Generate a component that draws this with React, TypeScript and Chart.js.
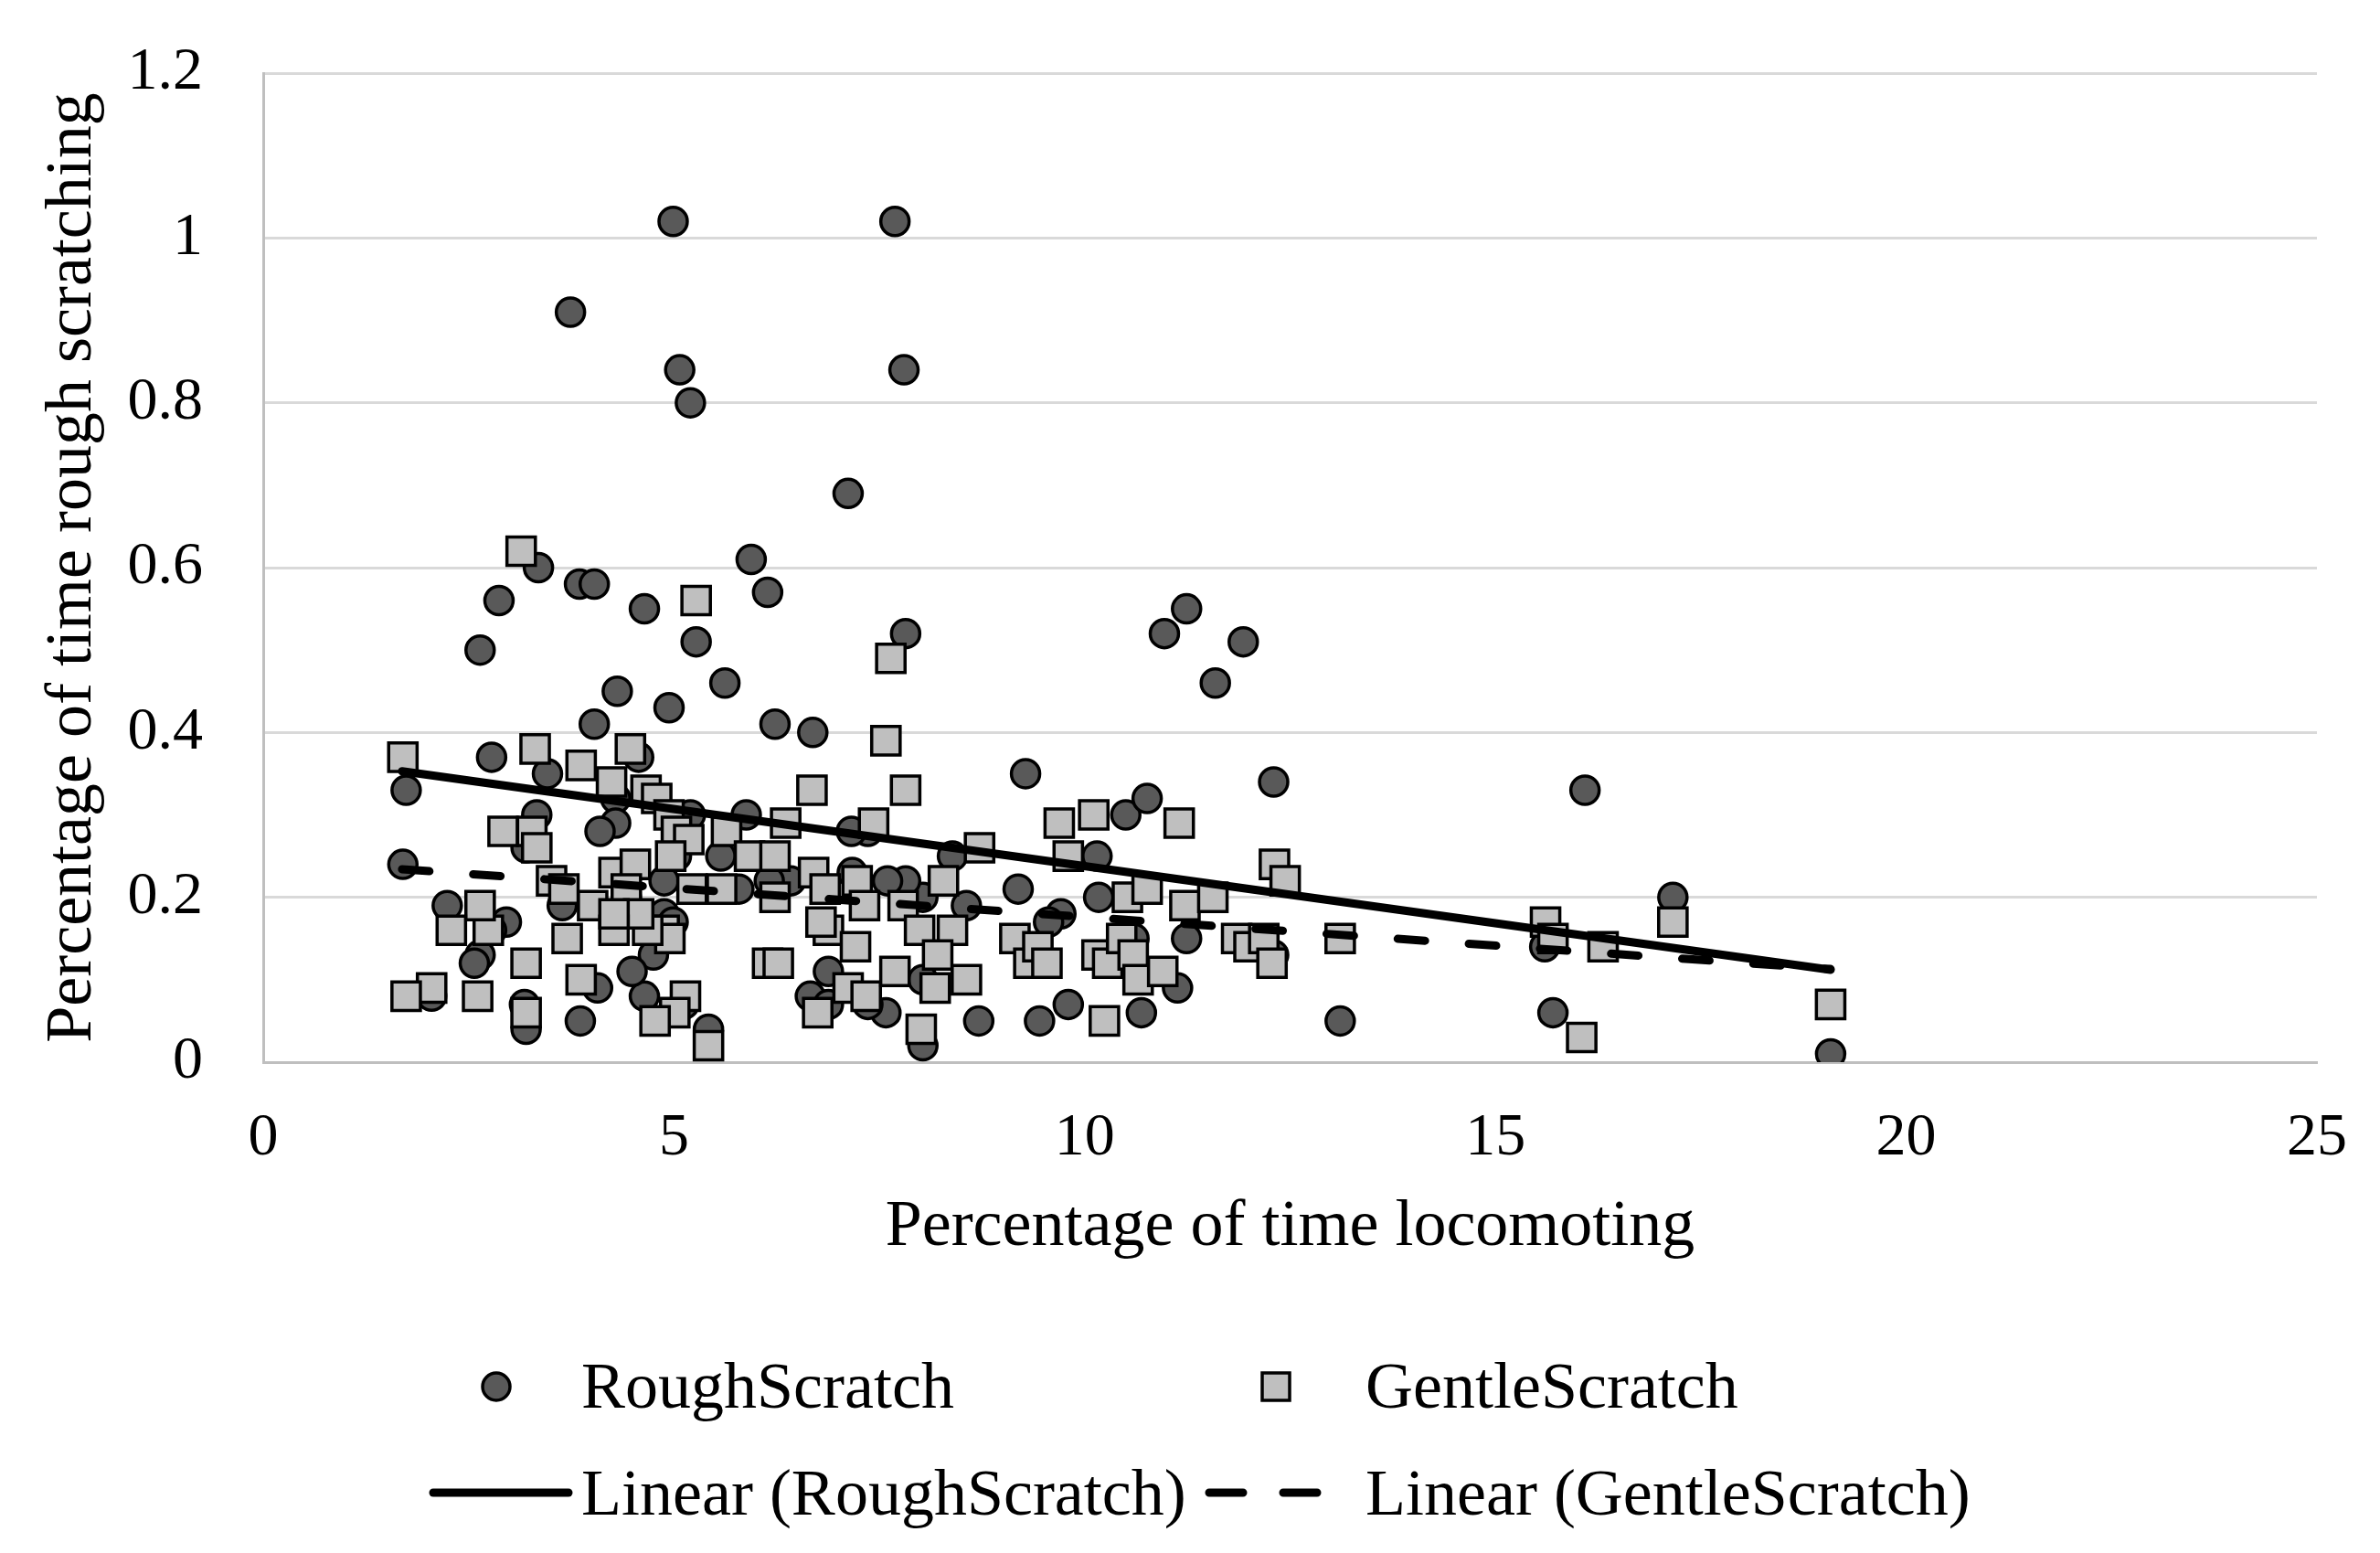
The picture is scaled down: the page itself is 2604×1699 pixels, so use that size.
import React, { useEffect, useRef } from "react";
import { Chart, registerables } from "chart.js";

Chart.register(...registerables);

// ---- Data ----
const roughX = [
  4.99, 7.69, 3.74, 5.07, 7.80, 5.20, 7.12, 3.35, 2.87, 3.85, 4.03, 4.64, 5.94, 6.14, 7.82, 5.27,
  2.64, 4.31, 5.62, 4.94, 10.97, 11.24, 11.59, 11.93, 6.23, 6.69, 4.03, 2.78, 1.74, 1.70, 9.28, 12.30,
  16.09, 17.16, 19.08, 13.11, 15.70, 15.60, 10.50, 10.76, 11.24, 11.13, 10.69, 9.80, 9.45, 8.71, 9.19, 9.71,
  9.56, 10.15, 10.17, 8.56, 8.39, 8.03, 8.03, 8.03, 7.82, 7.60, 7.58, 7.36, 7.16, 7.17, 6.88, 6.66,
  6.88, 7.36, 6.42, 6.16, 5.88, 5.79, 5.57, 5.20, 5.42, 5.12, 5.03, 4.88, 4.88, 4.99, 4.79, 4.75,
  4.64, 4.49, 4.29, 4.29, 4.10, 4.57, 4.07, 3.86, 3.64, 3.46, 3.33, 3.20, 3.18, 3.20, 2.96, 2.78,
  2.64, 2.57, 2.24, 2.05, 4.42, 12.30, 10.60,
];
const roughY = [
  1.02, 1.02, 0.91, 0.84, 0.84, 0.80, 0.69, 0.60, 0.56, 0.58, 0.58, 0.55, 0.61, 0.57, 0.52, 0.51,
  0.50, 0.45, 0.46, 0.43, 0.52, 0.55, 0.46, 0.51, 0.41, 0.40, 0.41, 0.37, 0.33, 0.24, 0.35, 0.34,
  0.33, 0.20, 0.01, 0.05, 0.06, 0.14, 0.30, 0.32, 0.15, 0.09, 0.06, 0.07, 0.05, 0.05, 0.21, 0.18,
  0.17, 0.25, 0.20, 0.19, 0.25, 0.20, 0.10, 0.02, 0.22, 0.22, 0.06, 0.28, 0.28, 0.23, 0.11, 0.08,
  0.07, 0.07, 0.22, 0.22, 0.30, 0.21, 0.25, 0.30, 0.04, 0.07, 0.25, 0.22, 0.18, 0.17, 0.15, 0.13,
  0.08, 0.11, 0.32, 0.29, 0.28, 0.37, 0.09, 0.05, 0.19, 0.35, 0.30, 0.26, 0.07, 0.04, 0.17, 0.16,
  0.13, 0.12, 0.19, 0.08, 0.20, 0.13, 0.15,
];

const gentleX = [
  3.14, 5.27, 7.64, 1.70, 3.31, 3.87, 4.47, 4.24, 4.66, 4.79, 4.94, 7.58, 7.82, 6.68, 2.92, 3.27,
  3.33, 3.51, 3.66, 4.01, 4.27, 4.53, 4.42, 5.03, 5.18, 5.22, 5.58, 5.64, 5.92, 6.23, 6.36, 6.23,
  6.70, 6.84, 7.23, 7.32, 6.88, 7.21, 6.79, 7.43, 7.79, 7.99, 8.28, 8.39, 8.72, 8.21, 8.18, 8.56,
  8.01, 7.12, 7.34, 7.69, 6.75, 6.14, 6.27, 5.42, 5.14, 5.01, 4.77, 4.88, 4.95, 4.96, 4.68, 4.57,
  4.27, 4.27, 3.87, 3.70, 3.20, 3.20, 2.74, 2.64, 2.61, 2.29, 2.05, 1.74, 9.15, 9.32, 9.43, 9.54,
  9.69, 9.80, 10.11, 10.15, 10.28, 10.24, 10.45, 10.52, 10.59, 10.65, 10.76, 10.95, 11.15, 11.22, 11.56, 11.85,
  12.00, 12.18, 12.31, 12.44, 12.28, 13.11, 15.61, 15.70, 16.05, 16.31, 17.16, 19.08,
];
const gentleY = [
  0.62, 0.56, 0.49, 0.37, 0.38, 0.36, 0.38, 0.34, 0.33, 0.32, 0.30, 0.39, 0.33, 0.33, 0.28, 0.28,
  0.26, 0.22, 0.21, 0.19, 0.23, 0.24, 0.21, 0.28, 0.27, 0.21, 0.21, 0.28, 0.25, 0.25, 0.29, 0.20,
  0.23, 0.21, 0.22, 0.19, 0.16, 0.14, 0.17, 0.29, 0.19, 0.16, 0.22, 0.16, 0.26, 0.13, 0.09, 0.10,
  0.04, 0.09, 0.08, 0.11, 0.06, 0.12, 0.12, 0.02, 0.08, 0.06, 0.05, 0.16, 0.15, 0.25, 0.16, 0.18,
  0.16, 0.18, 0.10, 0.15, 0.12, 0.06, 0.16, 0.19, 0.08, 0.16, 0.09, 0.08, 0.15, 0.12, 0.14, 0.12,
  0.29, 0.25, 0.30, 0.13, 0.12, 0.05, 0.15, 0.20, 0.13, 0.10, 0.21, 0.11, 0.29, 0.19, 0.20, 0.15,
  0.14, 0.15, 0.24, 0.22, 0.12, 0.15, 0.17, 0.15, 0.03, 0.14, 0.17, 0.07,
];

// Linear trend lines (end points)
const trendX = [1.69, 19.08];
const roughTrendY = [0.353, 0.112];
const gentleTrendY = [0.234, 0.113];

const xTickValues = [0, 5, 10, 15, 20, 25];
const yTickValues = [0, 0.2, 0.4, 0.6, 0.8, 1, 1.2];
const yTickLabels = ["0", "0.2", "0.4", "0.6", "0.8", "1", "1.2"];

const seriesNames = ["RoughScratch", "GentleScratch", "Linear (RoughScratch)", "Linear (GentleScratch)"];

const FONT = '"Liberation Serif", "Times New Roman", serif';
const ROUGH_FILL = "#595959";
const GENTLE_FILL = "#bfbfbf";

export default function App() {
  const ref = useRef<HTMLCanvasElement | null>(null);

  useEffect(() => {
    if (!ref.current) return;
    const pts = (xs: number[], ys: number[]) => xs.map((x, i) => ({ x, y: ys[i] }));

    const legendPlugin = {
      id: "excelLegend",
      afterDraw(chart: any) {
        const ctx = chart.ctx as CanvasRenderingContext2D;
        const names = chart.data.datasets.map((d: any) => d.label);
        ctx.save();
        ctx.font = `72px ${FONT}`;
        ctx.fillStyle = "#000";
        ctx.textAlign = "left";
        ctx.textBaseline = "alphabetic";
        // row 1 markers
        ctx.lineWidth = 3.5;
        ctx.strokeStyle = "#000";
        ctx.beginPath();
        ctx.arc(543, 1517, 15, 0, Math.PI * 2);
        ctx.fillStyle = ROUGH_FILL;
        ctx.fill();
        ctx.stroke();
        ctx.beginPath();
        ctx.rect(1396 - 15, 1517 - 15, 30, 30);
        ctx.fillStyle = GENTLE_FILL;
        ctx.fill();
        ctx.stroke();
        ctx.fillStyle = "#000";
        ctx.fillText(names[0], 636, 1540);
        ctx.fillText(names[1], 1494, 1540);
        // row 2 line samples
        ctx.lineWidth = 9;
        ctx.lineCap = "round";
        ctx.beginPath();
        ctx.moveTo(474, 1633);
        ctx.lineTo(622, 1633);
        ctx.stroke();
        ctx.beginPath();
        ctx.moveTo(1323, 1633);
        ctx.lineTo(1360, 1633);
        ctx.moveTo(1404, 1633);
        ctx.lineTo(1441, 1633);
        ctx.stroke();
        ctx.fillText(names[2], 636, 1657);
        ctx.fillText(names[3], 1494, 1657);
        ctx.restore();
      },
    };

    const chart = new Chart(ref.current, {
      type: "scatter",
      data: {
        datasets: [
          {
            label: seriesNames[0],
            data: pts(roughX, roughY),
            pointStyle: "circle",
            pointRadius: 15.5,
            pointHoverRadius: 15.5,
            backgroundColor: ROUGH_FILL,
            borderColor: "#000",
            pointBorderWidth: 3.5,
            borderWidth: 3.5,
            order: 3,
          },
          {
            label: seriesNames[1],
            data: pts(gentleX, gentleY),
            pointStyle: "rect",
            pointRadius: 22,
            pointHoverRadius: 22,
            backgroundColor: GENTLE_FILL,
            borderColor: "#000",
            pointBorderWidth: 3.5,
            borderWidth: 3.5,
            order: 2,
          },
          {
            label: seriesNames[2],
            data: pts(trendX, roughTrendY),
            showLine: true,
            pointRadius: 0,
            borderColor: "#000",
            borderWidth: 9,
            borderCapStyle: "round",
            order: 1,
          },
          {
            label: seriesNames[3],
            data: pts(trendX, gentleTrendY),
            showLine: true,
            pointRadius: 0,
            borderColor: "#000",
            borderWidth: 9,
            borderDash: [30, 48],
            borderCapStyle: "round",
            order: 0,
          },
        ],
      } as any,
      options: {
        animation: false,
        responsive: true,
        maintainAspectRatio: false,
        devicePixelRatio: 1,
        events: [],
        layout: { padding: { left: 0, right: 69, top: 80, bottom: 313 } },
        plugins: {
          legend: { display: false },
          tooltip: { enabled: false },
          title: { display: false },
        },
        scales: {
          x: {
            type: "linear",
            min: xTickValues[0],
            max: xTickValues[xTickValues.length - 1],
            afterBuildTicks: (scale: any) => {
              scale.ticks = xTickValues.map((v) => ({ value: v }));
            },
            afterFit: (scale: any) => {
              scale.height = 224;
              scale.paddingLeft = 0;
              scale.paddingRight = 0;
            },
            ticks: {
              color: "#000",
              font: { family: FONT, size: 66 },
              padding: 44,
              maxRotation: 0,
              callback: (v: any) => String(v),
            },
            grid: { display: false, drawTicks: false },
            border: { display: true, color: "#bfbfbf", width: 3 },
            title: {
              display: true,
              text: "Percentage of time locomoting",
              color: "#000",
              font: { family: FONT, size: 72 },
              padding: { top: 0, bottom: 0 },
            },
          },
          y: {
            type: "linear",
            min: yTickValues[0],
            max: yTickValues[yTickValues.length - 1],
            afterBuildTicks: (scale: any) => {
              scale.ticks = yTickValues.map((v) => ({ value: v }));
            },
            afterFit: (scale: any) => {
              scale.width = 288;
              scale.paddingTop = 0;
              scale.paddingBottom = 0;
            },
            ticks: {
              color: "#000",
              font: { family: FONT, size: 66 },
              padding: 66,
              callback: (_v: any, i: number) => yTickLabels[i],
            },
            grid: { color: "#d9d9d9", lineWidth: 3, drawTicks: false },
            border: { display: true, color: "#bfbfbf", width: 3 },
            title: {
              display: true,
              text: "Percentage of time rough scratching",
              color: "#000",
              font: { family: FONT, size: 72 },
              padding: { top: 37, bottom: 0 },
            },
          },
        },
      } as any,
      plugins: [legendPlugin],
    });
    return () => chart.destroy();
  }, []);

  return (
    <div style={{ position: "fixed", left: 0, top: 0, width: 2604, height: 1699, background: "#fff" }}>
      <canvas ref={ref} />
    </div>
  );
}
